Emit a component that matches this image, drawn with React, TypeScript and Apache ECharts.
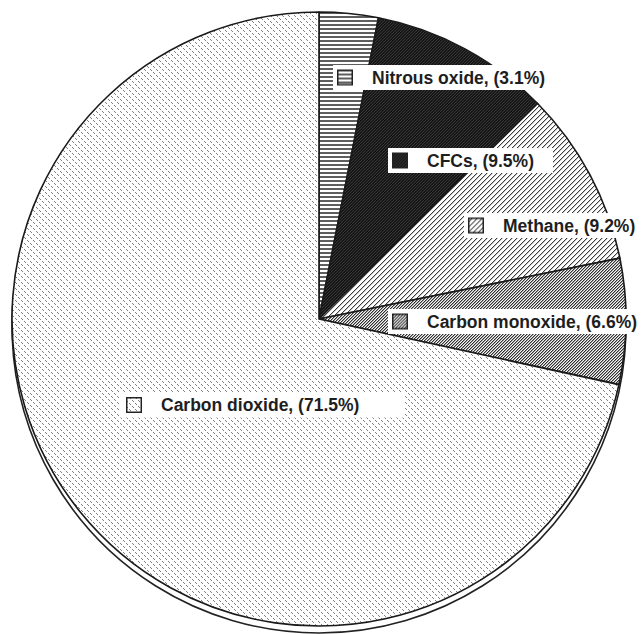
import React, { useEffect, useRef } from 'react';
import * as echarts from 'echarts';

const categories = ['Nitrous oxide', 'CFCs', 'Methane', 'Carbon monoxide', 'Carbon dioxide'];
const shares = [3.1, 9.5, 9.2, 6.6, 71.5];
const shareLabels = ['3.1%', '9.5%', '9.2%', '6.6%', '71.5%'];

const W = 641;
const H = 634;
const CX = 319;
const CY = 319;
const R = 307;
const DEPTH = 7;

// label box placement, relative to pie centre (left edge / vertical middle)
const labelBoxes = [
  { dx: 14, dy: -241.5, padL: 4, padR: 5 },
  { dx: 69, dy: -158.5, padL: 4, padR: 19 },
  { dx: 145, dy: -93.5, padL: 4, padR: 8 },
  { dx: 69, dy: 2.5, padL: 4, padR: 2 },
  { dx: -199, dy: 86, padL: 6, padR: 45 },
];

type Ctx = CanvasRenderingContext2D;

function makeTile(w: number, h: number, draw: (ctx: Ctx) => void) {
  const c = document.createElement('canvas');
  c.width = w;
  c.height = h;
  const ctx = c.getContext('2d') as Ctx;
  draw(ctx);
  return c;
}

function px(ctx: Ctx, x: number, y: number, col: string) {
  ctx.fillStyle = col;
  ctx.fillRect(x, y, 1, 1);
}

function buildTiles() {
  const hLines = makeTile(8, 4, (ctx) => {
    ctx.fillStyle = '#fff';
    ctx.fillRect(0, 0, 8, 4);
    ctx.fillStyle = '#5e5e5e';
    ctx.fillRect(0, 0, 8, 2);
  });
  const cfc = makeTile(3, 3, (ctx) => {
    ctx.fillStyle = '#161616';
    ctx.fillRect(0, 0, 3, 3);
    for (let i = 0; i < 3; i++) px(ctx, i, 2 - i, '#383838');
  });
  const methane = makeTile(5, 5, (ctx) => {
    ctx.fillStyle = '#fff';
    ctx.fillRect(0, 0, 5, 5);
    for (let i = 0; i < 5; i++) {
      px(ctx, i, 4 - i, '#3c3c3c');
      px(ctx, i, (5 - i) % 5, '#c4c4c4');
    }
  });
  const co = makeTile(3, 3, (ctx) => {
    ctx.fillStyle = '#f4f4f4';
    ctx.fillRect(0, 0, 3, 3);
    for (let i = 0; i < 3; i++) {
      px(ctx, i, 2 - i, '#303030');
      px(ctx, i, (3 - i) % 3, '#a0a0a0');
    }
  });
  const co2 = makeTile(6, 6, (ctx) => {
    ctx.fillStyle = '#fff';
    ctx.fillRect(0, 0, 6, 6);
    const col = '#808080';
    px(ctx, 0, 3, col);
    px(ctx, 1, 4, col);
    px(ctx, 3, 0, col);
    px(ctx, 4, 1, col);
  });
  return [hLines, cfc, methane, co, co2];
}

function makeIcon(tile: HTMLCanvasElement) {
  const c = document.createElement('canvas');
  c.width = 16;
  c.height = 16;
  const ctx = c.getContext('2d') as Ctx;
  const pat = ctx.createPattern(tile, 'repeat');
  if (pat) ctx.fillStyle = pat;
  ctx.fillRect(0, 0, 16, 16);
  ctx.strokeStyle = '#222';
  ctx.lineWidth = 1.5;
  ctx.strokeRect(0.75, 0.75, 14.5, 14.5);
  return c.toDataURL();
}

export default function App() {
  const ref = useRef<HTMLDivElement>(null);

  useEffect(() => {
    if (!ref.current) return;
    const chart = echarts.init(ref.current, undefined, { renderer: 'svg', width: W, height: H });
    const tiles = buildTiles();
    const icons = tiles.map(makeIcon);

    const rich: Record<string, any> = {
      gap: { width: 19, height: 16, verticalAlign: 'middle' },
      txt: {
        fontFamily: '"Liberation Sans", Arial, Helvetica, sans-serif',
        fontWeight: 'bold',
        fontSize: 17.5,
        lineHeight: 17,
        color: '#1e1e1e',
        verticalAlign: 'middle',
      },
    };
    icons.forEach((src, i) => {
      rich['icon' + i] = {
        width: 16,
        height: 16,
        backgroundColor: { image: src },
        verticalAlign: 'middle',
      };
    });

    const total = shares.reduce((a, b) => a + b, 0);

    chart.setOption({
      animation: false,
      backgroundColor: '#fff',
      series: [
        {
          type: 'pie',
          z: 1,
          silent: true,
          center: [CX, CY + DEPTH],
          radius: R,
          startAngle: 90,
          label: { show: false },
          labelLine: { show: false },
          itemStyle: { color: '#fff', borderColor: '#222', borderWidth: 1.6 },
          data: [{ name: 'depth', value: total }],
        },
        {
          type: 'pie',
          z: 2,
          silent: true,
          center: [CX, CY],
          radius: R,
          startAngle: 90,
          clockwise: true,
          avoidLabelOverlap: false,
          itemStyle: { borderColor: '#1a1a1a', borderWidth: 1.6 },
          labelLine: { show: false },
          label: {
            show: true,
            position: 'inside',
            backgroundColor: '#fff',
            formatter: (p: any) =>
              `{icon${p.dataIndex}|}{gap|}{txt|${p.name}, (${shareLabels[p.dataIndex]})}`,
            rich,
          },
          labelLayout: (params: any) => {
            const b = labelBoxes[params.dataIndex];
            return { x: CX + b.dx, y: CY + b.dy, align: 'left', verticalAlign: 'middle' };
          },
          data: categories.map((name, i) => ({
            name,
            value: shares[i],
            itemStyle: {
              color: {
                image: tiles[i],
                repeat: 'repeat',
                imageWidth: tiles[i].width,
                imageHeight: tiles[i].height,
              },
            },
            label: {
              padding: [4, labelBoxes[i].padR, 4, labelBoxes[i].padL],
            },
          })),
        },
      ],
    });

    return () => chart.dispose();
  }, []);

  return (
    <div
      ref={ref}
      style={{ position: 'fixed', left: 0, top: 0, width: W, height: H, background: '#fff' }}
    />
  );
}
